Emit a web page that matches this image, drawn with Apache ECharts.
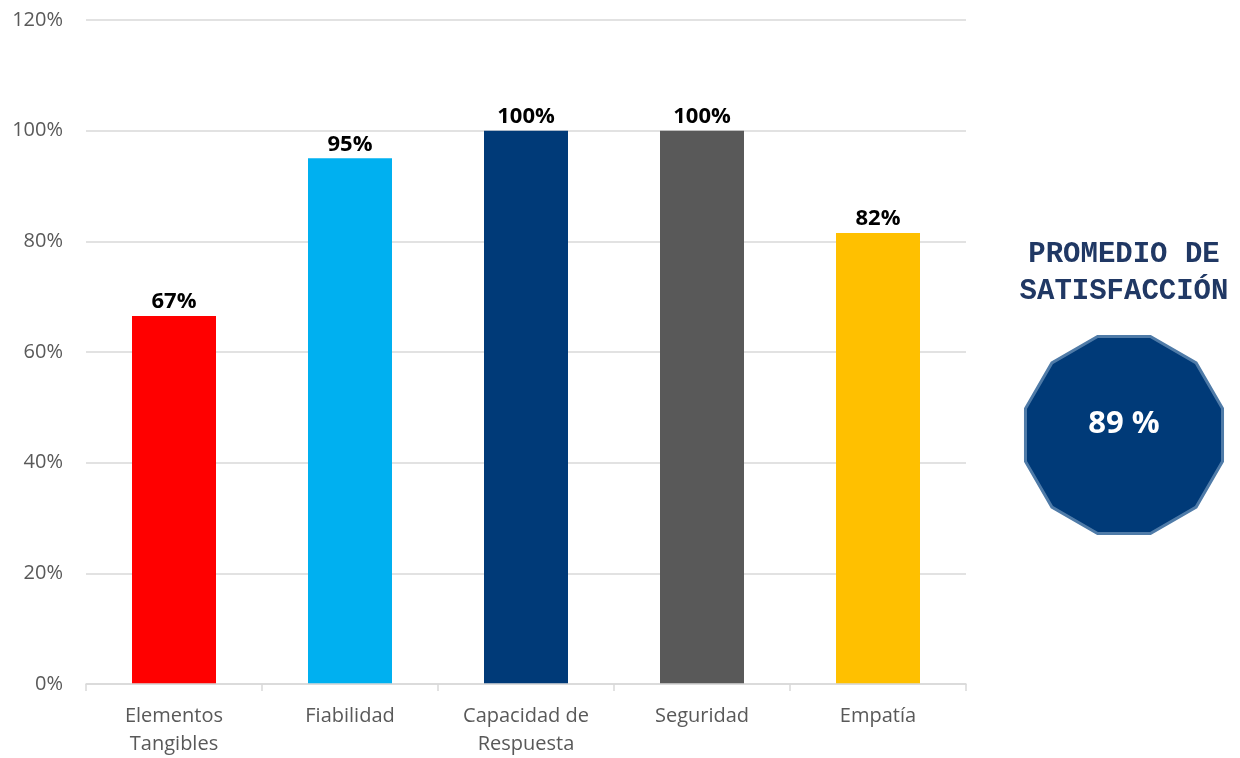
<!DOCTYPE html>
<html>
<head>
<meta charset="utf-8">
<script src="https://cdn.jsdelivr.net/npm/echarts@6/dist/echarts.min.js"></script>
<style>
html,body{margin:0;padding:0;background:#fff;}
#main{width:1240px;height:758px;}
</style>
</head>
<body>
<div id="main"></div>
<script>
const categories = ['Elementos\nTangibles', 'Fiabilidad', 'Capacidad de\nRespuesta', 'Seguridad', 'Empatía'];
const values = [66.5, 95, 100, 100, 81.5];
const barColors = ['#FF0000', '#00B0F0', '#003A78', '#595959', '#FFC000'];
const yTicks = { min: 0, max: 120, interval: 20 };
const summaryTitle = 'PROMEDIO DE\nSATISFACCIÓN';
const summaryValue = '89 %';

const chart = echarts.init(document.getElementById('main'));

// regular 12-sided badge shape
const cx = 1124, cy = 435, R = 102;
const pts = [];
for (let i = 0; i < 12; i++) {
  const a = (15 + 30 * i) * Math.PI / 180;
  pts.push([cx + R * Math.cos(a), cy - R * Math.sin(a)]);
}

chart.setOption({
  animation: false,
  grid: { left: 86, right: 274, top: 20, bottom: 74 },
  xAxis: {
    type: 'category',
    data: categories,
    z: 5,
    axisLine: { lineStyle: { color: '#D9D9D9', width: 1.5 } },
    axisTick: { show: true, length: 7, lineStyle: { color: '#D9D9D9', width: 1.5 } },
    axisLabel: { color: '#595959', fontFamily: 'Open Sans', fontSize: 20, lineHeight: 28, margin: 18 }
  },
  yAxis: {
    type: 'value',
    min: yTicks.min, max: yTicks.max, interval: yTicks.interval,
    axisLine: { show: false },
    axisTick: { show: false },
    splitLine: { lineStyle: { color: '#D9D9D9', width: 1.5 } },
    axisLabel: { color: '#595959', fontFamily: 'Open Sans', fontSize: 20, margin: 23, formatter: '{value}%' }
  },
  series: [{
    type: 'bar',
    data: values.map((v, i) => ({ value: v, itemStyle: { color: barColors[i] } })),
    barWidth: 84,
    label: {
      show: true, position: 'top', distance: 3,
      color: '#000000', fontFamily: 'Open Sans', fontWeight: 'bold', fontSize: 22,
      formatter: p => Math.round(p.value) + '%'
    }
  }],
  graphic: [
    {
      type: 'text', z: 10,
      position: [cx, 236],
      style: {
        text: summaryTitle, x: 0, y: 0, align: 'center',
        fill: '#203864', font: 'bold 29px "Liberation Mono", "Courier New", monospace',
        lineHeight: 37
      }
    },
    {
      type: 'polygon', z: 10,
      shape: { points: pts },
      style: { fill: '#003A78', stroke: '#4F7BA8', lineWidth: 3 }
    },
    {
      type: 'text', z: 11,
      position: [cx, 424],
      style: {
        text: summaryValue, x: 0, y: 0, align: 'center', verticalAlign: 'middle',
        fill: '#ffffff', font: 'bold 31px "Open Sans", sans-serif'
      }
    }
  ]
});
</script>
</body>
</html>
